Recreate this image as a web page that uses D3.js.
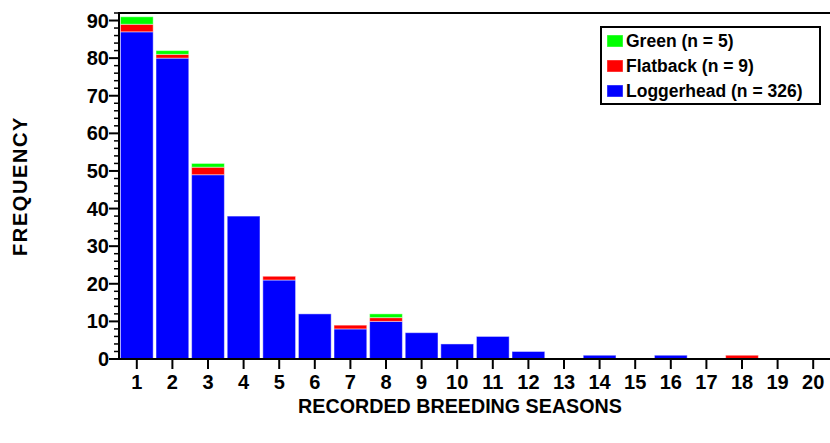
<!DOCTYPE html>
<html>
<head>
<meta charset="utf-8">
<script src="https://cdn.jsdelivr.net/npm/d3@7"></script>
<style>
  body { margin: 0; background: #fff; }
  text { font-family: "Liberation Sans", Arial, sans-serif; font-weight: bold; }
</style>
</head>
<body>
<svg id="chart" width="830" height="443"></svg>
<script>
// data
const seasons = d3.range(1, 21);
const loggerhead = [87, 80, 49, 38, 21, 12, 8, 10, 7, 4, 6, 2, 0, 1, 0, 1, 0, 0, 0, 0];
const flatback   = [2, 1, 2, 0, 1, 0, 1, 1, 0, 0, 0, 0, 0, 0, 0, 0, 0, 1, 0, 0];
const green      = [2, 1, 1, 0, 0, 0, 0, 1, 0, 0, 0, 0, 0, 0, 0, 0, 0, 0, 0, 0];
const seriesNames = ["Loggerhead", "Flatback", "Green"];
const seriesColors = { Loggerhead: "#0000ff", Flatback: "#ff0000", Green: "#00ff00" };
const legendLabels = ["Green (n = 5)", "Flatback (n = 9)", "Loggerhead (n = 326)"];
const legendKeys = ["Green", "Flatback", "Loggerhead"];
const yTicks = d3.range(0, 91, 10);

// layout
const plotLeft = 119, plotRight = 831, plotTop = 13, plotBottom = 359;
const svg = d3.select("#chart");

const table = seasons.map((s, i) => ({
    season: s, Loggerhead: loggerhead[i], Flatback: flatback[i], Green: green[i]
}));
const stacked = d3.stack().keys(seriesNames)(table);

const x = d3.scaleBand().domain(seasons).range([plotLeft, plotRight]).paddingInner(0.08).paddingOuter(0.04);
const y = d3.scaleLinear().domain([0, 92]).range([plotBottom, plotTop]);

// bars
const barGroups = svg.append("g").selectAll("g")
    .data(stacked)
    .join("g")
    .attr("fill", d => seriesColors[d.key]);
barGroups.selectAll("rect")
    .data(d => d.filter(p => p[1] > p[0]))
    .join("rect")
    .attr("x", d => x(d.data.season))
    .attr("y", d => y(d[1]))
    .attr("width", x.bandwidth())
    .attr("height", d => y(d[0]) - y(d[1]))
    .attr("stroke", "#ffffff")
    .attr("stroke-opacity", 0.45)
    .attr("stroke-width", 1);

// y axis
const yAxis = svg.append("g");
const minor = d3.range(0, 93, 2).filter(v => v % 10 !== 0);
yAxis.selectAll("line.minor").data(minor).join("line")
    .attr("x1", plotLeft - 5).attr("x2", plotLeft)
    .attr("y1", d => y(d)).attr("y2", d => y(d))
    .attr("stroke", "#000").attr("stroke-width", 1.5);
yAxis.selectAll("line.major").data(yTicks).join("line")
    .attr("x1", plotLeft - 10).attr("x2", plotLeft)
    .attr("y1", d => y(d)).attr("y2", d => y(d))
    .attr("stroke", "#000").attr("stroke-width", 2);
yAxis.selectAll("text").data(yTicks).join("text")
    .attr("x", plotLeft - 10)
    .attr("y", d => y(d) + 7)
    .attr("text-anchor", "end")
    .attr("font-size", 20)
    .attr("fill", "#000")
    .text(d => d);

// x axis
const xAxis = svg.append("g");
xAxis.selectAll("line").data(seasons).join("line")
    .attr("x1", d => x(d) + x.bandwidth() / 2).attr("x2", d => x(d) + x.bandwidth() / 2)
    .attr("y1", plotBottom).attr("y2", plotBottom + 10)
    .attr("stroke", "#000").attr("stroke-width", 2);
xAxis.selectAll("text").data(seasons).join("text")
    .attr("x", d => x(d) + x.bandwidth() / 2)
    .attr("y", plotBottom + 30)
    .attr("text-anchor", "middle")
    .attr("font-size", 20)
    .attr("fill", "#000")
    .text(d => d);

// frame lines
svg.append("line").attr("x1", plotLeft).attr("x2", 830).attr("y1", plotTop).attr("y2", plotTop)
    .attr("stroke", "#000").attr("stroke-width", 2);
svg.append("line").attr("x1", plotLeft - 10).attr("x2", 830).attr("y1", plotBottom).attr("y2", plotBottom)
    .attr("stroke", "#000").attr("stroke-width", 2);
svg.append("line").attr("x1", plotLeft).attr("x2", plotLeft).attr("y1", plotTop - 1).attr("y2", plotBottom + 1)
    .attr("stroke", "#000").attr("stroke-width", 2);

// titles
svg.append("text")
    .attr("x", 460).attr("y", 413)
    .attr("text-anchor", "middle")
    .attr("font-size", 19.7)
    .attr("fill", "#000")
    .text("RECORDED BREEDING SEASONS");
svg.append("text")
    .attr("transform", "translate(27,186) rotate(-90)")
    .attr("text-anchor", "middle")
    .attr("font-size", 20)
    .attr("letter-spacing", 1.6)
    .attr("fill", "#000")
    .text("FREQUENCY");

// legend
const legend = svg.append("g").attr("transform", "translate(601,27)");
legend.append("rect")
    .attr("width", 219).attr("height", 77)
    .attr("fill", "#fff").attr("stroke", "#000").attr("stroke-width", 2);
const items = legend.selectAll("g.item").data(legendKeys).join("g")
    .attr("transform", (d, i) => `translate(6,${14 + i * 25})`);
items.append("rect")
    .attr("y", -6).attr("width", 16).attr("height", 12)
    .attr("fill", d => seriesColors[d])
    .attr("stroke", "#fff").attr("stroke-opacity", 0.4);
items.append("text")
    .attr("x", 19).attr("y", 6.3)
    .attr("font-size", 17.5)
    .attr("fill", "#000")
    .text((d, i) => legendLabels[i]);
</script>
</body>
</html>
